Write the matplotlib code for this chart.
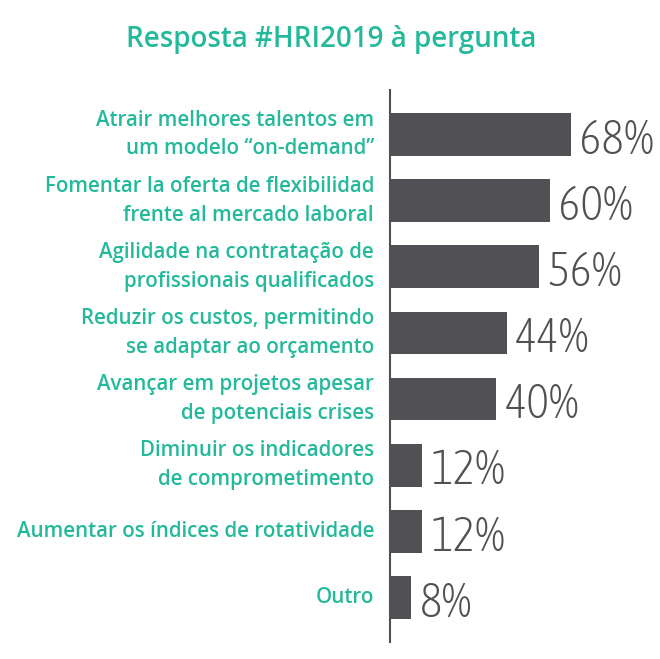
import matplotlib
matplotlib.use('Agg')
import matplotlib.pyplot as plt
from matplotlib import font_manager
import matplotlib.patheffects as pe

TEAL = '#25b99b'
GREY = '#505055'

labels = [
    'Atrair melhores talentos em\num modelo \u201con-demand\u201d',
    'Fomentar la oferta de flexibilidad\nfrente al mercado laboral',
    'Agilidade na contrata\u00e7\u00e3o de\nprofissionais qualificados',
    'Reduzir os custos, permitindo\nse adaptar ao or\u00e7amento',
    'Avan\u00e7ar em projetos apesar\nde potenciais crises',
    'Diminuir os indicadores\nde comprometimento',
    'Aumentar os \u00edndices de rotatividade',
    'Outro',
]
values = [68, 60, 56, 44, 40, 12, 12, 8]
value_labels = ['68%', '60%', '56%', '44%', '40%', '12%', '12%', '8%']

# thin condensed font for the numbers, if there is one
fonts = font_manager.fontManager.ttflist
thin = [f.name for f in fonts if ('Condensed' in f.name or 'Narrow' in f.name)
        and isinstance(f.weight, int) and f.weight <= 300]
cond = [f.name for f in fonts if 'Condensed' in f.name or 'Narrow' in f.name]
if thin:
    num_family, erode = [thin[0], 'Roboto'], 0
elif cond:
    num_family, erode = [sorted(cond)[0], 'Roboto'], 2.0
else:
    num_family, erode = ['Roboto'], 1.0

W, H = 660, 659
fig = plt.figure(figsize=(W / 100, H / 100), dpi=100)
ax = fig.add_axes([390 / W, 1 - 642 / H, 270 / W, 552 / H])

ypos = list(range(len(values)))
ax.barh(ypos, values, height=0.65, color=GREY, zorder=2)
ax.set_xlim(0, 270 / 2.66)
ax.set_ylim(len(values) - 1 + 0.68, -0.68)

for s in ['top', 'right', 'bottom']:
    ax.spines[s].set_visible(False)
ax.spines['left'].set_color(GREY)
ax.spines['left'].set_linewidth(1.5)
ax.set_xticks([])
ax.set_yticks([])

effects = [pe.Stroke(linewidth=erode, foreground='white')] if erode else []
for y, v, t, lab in zip(ypos, values, value_labels, labels):
    ax.annotate(t, xy=(v, y), xytext=(6, -14), textcoords='offset points',
                ha='left', va='baseline', fontsize=34.5, color=GREY,
                family=num_family, fontweight='light', annotation_clip=False,
                path_effects=effects)
    ax.annotate(lab, xy=(0, y), xytext=(-11.5, 0), textcoords='offset points',
                ha='right', va='center', fontsize=14.8, color=TEAL,
                family=['Open Sans', 'DejaVu Sans'], fontweight='semibold',
                linespacing=1.45, annotation_clip=False)

fig.text(331 / W, 1 - 40 / H, 'Resposta #HRI2019 \u00e0 pergunta', ha='center',
         va='center', fontsize=20, color=TEAL, family=['Open Sans', 'DejaVu Sans'],
         fontweight='semibold')

fig.savefig('out.png', dpi=100, facecolor='white')
